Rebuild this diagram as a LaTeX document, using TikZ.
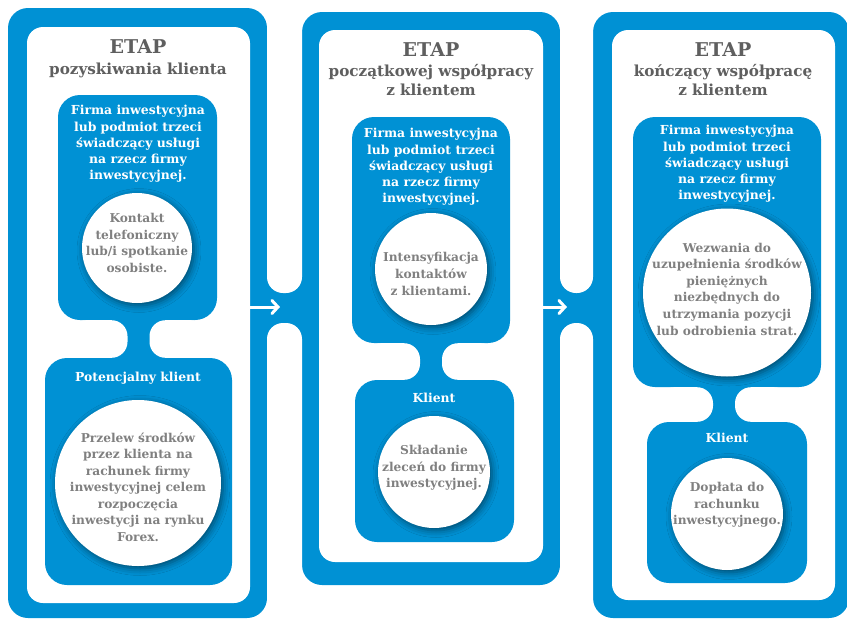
\documentclass[tikz,border=0pt]{standalone}
\usepackage{fontspec}
\setmainfont{DejaVu Serif}
\usetikzlibrary{arrows.meta,positioning,shadows.blur}
\definecolor{stageblue}{RGB}{0,145,212}
\definecolor{titlegray}{RGB}{95,95,95}
\definecolor{bubblegray}{RGB}{128,128,128}

\begin{document}
\begin{tikzpicture}[x=1pt, y=-1pt,
    stage/.style={rectangle, fill=stageblue, rounded corners=20pt, inner sep=0pt},
    panel/.style={rectangle, fill=white, rounded corners=16pt, inner sep=0pt},
    actor/.style={rectangle, fill=stageblue, rounded corners=22pt, inner sep=0pt},
    bubble/.style={circle, fill=white, inner sep=0pt,
        blur shadow={shadow xshift=2pt, shadow yshift=-2.5pt, shadow blur radius=7pt, shadow opacity=50}},
    head/.style={font=\bfseries\fontsize{19}{22}\selectfont, text=titlegray},
    subhead/.style={font=\bfseries\fontsize{15.2}{19}\selectfont, text=titlegray, align=center},
    actortext/.style={font=\bfseries\fontsize{12.4}{16.3}\selectfont, text=white, align=center},
    bubbletext/.style={font=\bfseries\fontsize{12.2}{16.6}\selectfont, text=bubblegray, align=center},
    gapcut/.style={fill=white, rounded corners=16pt},
    neckcut/.style={fill=white, rounded corners=16pt},
    flow/.style={draw=white, line width=3pt, line cap=round,
        -{Straight Barb[length=6pt, width=13pt, line cap=round]}}
]
\useasboundingbox (0,0) rectangle (847,619);

% outer frames
\node[stage, minimum width=259pt, minimum height=610pt] (s1out) at (137.5,313) {};
\node[stage, minimum width=258pt, minimum height=573pt] (s2out) at (431,298.5) {};
\node[stage, minimum width=256pt, minimum height=606pt] (s3out) at (721,315) {};

% bridges between the stages
\fill[stageblue] (255,278) rectangle (314,338);
\fill[stageblue] (548,278) rectangle (607,338);
\path[gapcut] (267,-40) rectangle (302,293);
\path[gapcut] (267,323) rectangle (302,660);
\path[gapcut] (560,-40) rectangle (593,293);
\path[gapcut] (560,323) rectangle (593,660);

% white panels
\node[panel, minimum width=223pt, minimum height=576pt] (s1in) at (138.5,315) {};
\node[panel, minimum width=224pt, minimum height=532pt] (s2in) at (431,296) {};
\node[panel, minimum width=223pt, minimum height=570pt] (s3in) at (723.5,315) {};

% necks
\fill[stageblue] (98,314) rectangle (178,364);
\fill[stageblue] (391,337) rectangle (471,386);
\fill[stageblue] (684,381) rectangle (764,428);

% actor boxes
\node[actor, minimum width=159pt, minimum height=225pt] (s1firm) at (137.5,207.5) {};
\node[actor, minimum width=187pt, minimum height=227pt] (s1cl) at (138.5,471.5) {};
\node[actor, minimum width=158pt, minimum height=226pt] (s2firm) at (431,230) {};
\node[actor, minimum width=159pt, minimum height=162pt] (s2cl) at (434.5,461) {};
\node[actor, minimum width=188pt, minimum height=270pt] (s3firm) at (727,252) {};
\node[actor, minimum width=160pt, minimum height=161pt] (s3cl) at (727,502.5) {};

\path[neckcut] (s1firm.south -| 70,0) rectangle (s1cl.north -| 127.5,0);
\path[neckcut] (s1firm.south -| 149.5,0) rectangle (s1cl.north -| 207,0);
\path[neckcut] (s2firm.south -| 365,0) rectangle (s2cl.north -| 420,0);
\path[neckcut] (s2firm.south -| 442,0) rectangle (s2cl.north -| 497,0);
\path[neckcut] (s3firm.south -| 658,0) rectangle (s3cl.north -| 713,0);
\path[neckcut] (s3firm.south -| 735,0) rectangle (s3cl.north -| 790,0);

% bubbles
\node[bubble, minimum size=110pt] (s1firmb) at (137,248) {};
\node[bubble, minimum size=166pt] (s1clb) at (138,483) {};
\node[bubble, minimum size=112pt] (s2firmb) at (431,269) {};
\node[bubble, minimum size=112pt] (s2clb) at (434,472) {};
\node[bubble, minimum size=168pt] (s3firmb) at (727,292.5) {};
\node[bubble, minimum size=112pt] (s3clb) at (727,514) {};

% titles
\node[head] (s1head) at (138,47) {ETAP};
\node[subhead] (s1sub) at (138,70) {pozyskiwania klienta};
\node[head] (s2head) at (431,50) {ETAP};
\node[subhead, below=0pt of s2head] (s2sub) {początkowej współpracy\\z klientem};
\node[head] (s3head) at (723,50) {ETAP};
\node[subhead, below=0pt of s3head] (s3sub) {kończący współpracę\\z klientem};

% texts
\node[actortext] (s1firmt) at (138,144) {Firma inwestycyjna\\lub podmiot trzeci\\świadczący usługi\\na rzecz firmy\\inwestycyjnej.};
\node[bubbletext] (s1firmbt) at (137,243) {Kontakt\\telefoniczny\\lub/i spotkanie\\osobiste.};
\node[actortext] (s1clt) at (138,378) {Potencjalny klient};
\node[bubbletext] (s1clbt) at (138,487) {Przelew środków\\przez klienta na\\rachunek firmy\\inwestycyjnej celem\\rozpoczęcia\\inwestycji na rynku\\Forex.};

\node[actortext] (s2firmt) at (431,167) {Firma inwestycyjna\\lub podmiot trzeci\\świadczący usługi\\na rzecz firmy\\inwestycyjnej.};
\node[bubbletext] (s2firmbt) at (431,274) {Intensyfikacja\\kontaktów\\z klientami.};
\node[actortext] (s2clt) at (434,398) {Klient};
\node[bubbletext] (s2clbt) at (434,468) {Składanie\\zleceń do firmy\\inwestycyjnej.};

\node[actortext] (s3firmt) at (727,164) {Firma inwestycyjna\\lub podmiot trzeci\\świadczący usługi\\na rzecz firmy\\inwestycyjnej.};
\node[bubbletext] (s3firmbt) at (727,289) {Wezwania do\\uzupełnienia środków\\pieniężnych\\niezbędnych do\\utrzymania pozycji\\lub odrobienia strat.};
\node[actortext] (s3clt) at (727,438) {Klient};
\node[bubbletext] (s3clbt) at (727,505) {Dopłata do\\rachunku\\inwestycyjnego.};

% arrows
\coordinate (a1s) at (s1in.east |- 0,307);
\coordinate (a1e) at (280,307);
\coordinate (a2s) at (s2in.east |- 0,307);
\coordinate (a2e) at (567,307);
\draw[flow] (a1s) -- (a1e);
\draw[flow] (a2s) -- (a2e);
\end{tikzpicture}
\end{document}
